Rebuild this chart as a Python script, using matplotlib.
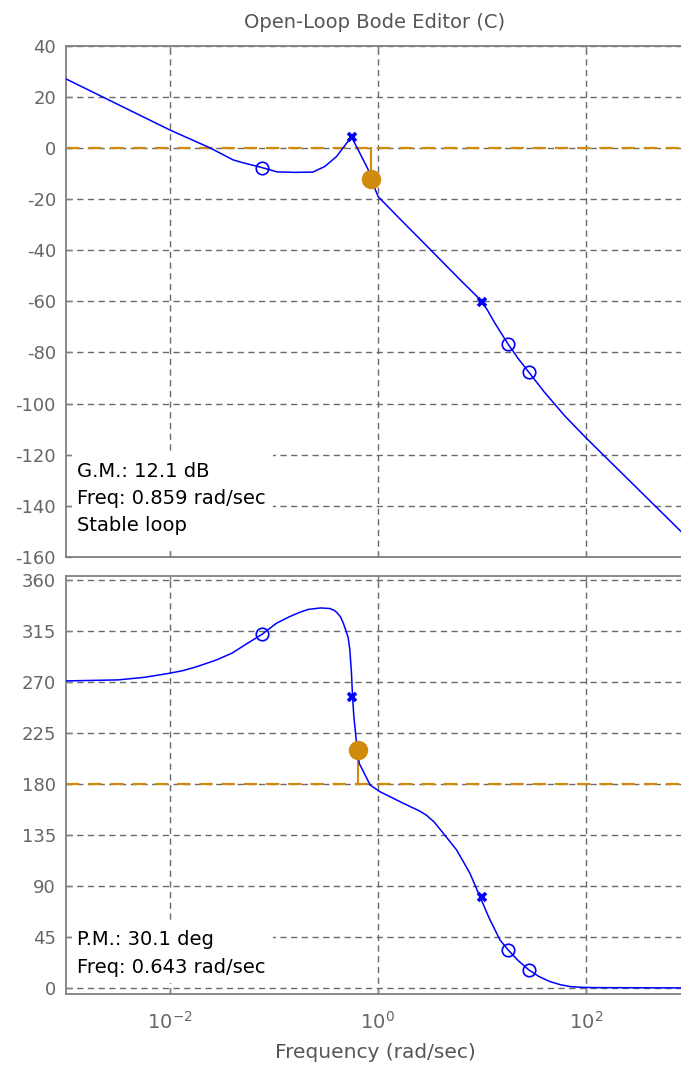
"""
plot.py - open-loop Bode editor view: magnitude and phase with gain and
phase margin markers. Values read off the reference picture.
"""

import matplotlib
matplotlib.use("Agg")
import matplotlib.pyplot as plt
from matplotlib.patches import Rectangle
from matplotlib.ticker import FixedLocator, NullLocator

plt.rcParams["font.family"] = ["DejaVu Sans"]
plt.rcParams["axes.unicode_minus"] = False

# magnitude curve (rad/sec, dB)
mag_w = [0.001, 0.00316, 0.01, 0.0243, 0.0405, 0.0501, 0.0767, 0.107, 0.158,
         0.237, 0.309, 0.401, 0.5, 0.558, 0.647, 0.809, 0.859, 1.007, 1.63,
         3.16, 6.31, 8.91, 10.0, 11.2, 13.3, 17.8, 22.4, 28.3, 39.8, 63.1, 100.0,
         146.0, 461.0, 1000.0]
mag_db = [27.0, 17.0, 7.0, 0.0, -4.7, -5.8, -7.7, -9.4, -9.6,
          -9.5, -7.3, -3.4, 1.8, 4.2, -0.8, -8.6, -12.1, -19.1, -27.8,
          -39.6, -52.0, -58.0, -60.3, -63.2, -68.5, -76.7, -82.5, -87.8, -95.5, -105.0, -113.4,
          -120.0, -140.0, -153.5]

# phase curve (rad/sec, deg)
ph_w = [0.001, 0.00318, 0.00575, 0.01, 0.0134, 0.0178, 0.0281, 0.0398, 0.0526,
        0.0773, 0.106, 0.141, 0.178, 0.214, 0.282, 0.345, 0.380, 0.401, 0.437,
        0.465, 0.490, 0.519, 0.538, 0.558, 0.571, 0.588, 0.624, 0.643, 0.661,
        0.843, 1.045, 1.75, 2.51, 2.94, 3.47, 4.25, 5.71, 7.67, 9.57, 11.7,
        14.9, 17.9, 22.4, 28.3, 35.5, 45.1, 56.2, 70.1, 89.1, 117.0, 1000.0]
ph_deg = [270.9, 271.8, 274.1, 277.7, 280.0, 283.2, 289.4, 295.5, 302.6,
          312.1, 321.8, 327.5, 331.5, 334.0, 335.3, 334.8, 333.2, 331.5, 327.5,
          322.0, 316.0, 309.0, 298.2, 277.7, 257.0, 239.4, 216.0, 210.1, 198.3,
          179.1, 173.2, 163.0, 156.2, 152.3, 146.5, 136.5, 121.8, 101.2, 80.6, 62.0,
          42.4, 33.5, 24.0, 15.9, 10.0, 5.6, 3.0, 1.2, 0.6, 0.3, 0.0]

# compensator zeros (o) and poles (x)
zero_w = [0.0767, 17.8, 28.3]
zero_db = [-7.7, -76.7, -87.8]
zero_deg = [312.1, 33.5, 15.9]
pole_w = [0.56, 10.0]
pole_db = [4.2, -60.3]
pole_deg = [257.0, 80.6]

# margins
gm_w, gm_db = 0.859, -12.1
pm_w, pm_deg = 0.643, 210.1

mag_ticks = [40, 20, 0, -20, -40, -60, -80, -100, -120, -140, -160]
ph_ticks = [0, 45, 90, 135, 180, 225, 270, 315, 360]
freq_ticks = [1e-2, 1e0, 1e2]
freq_labels = ["$10^{-2}$", "$10^{0}$", "$10^{2}$"]

BLUE = "#0000ff"
ORANGE = "#d08a0c"
GRAY = "#808080"
TXT = "#666666"

fig = plt.figure(figsize=(6.81, 10.69), dpi=100)
ax1 = fig.add_axes([0.0965, 0.4790, 0.9167, 0.4784])
ax2 = fig.add_axes([0.0965, 0.0702, 0.9167, 0.3910])

for ax in (ax1, ax2):
    ax.set_xscale("log")
    ax.set_xlim(1e-3, 1e3)
    ax.xaxis.set_major_locator(FixedLocator(freq_ticks))
    ax.xaxis.set_minor_locator(NullLocator())
    ax.set_axisbelow(True)
    ax.grid(True, color="#6a6a6a", lw=1.0, ls=(0, (4.5, 3.2)))
    ax.tick_params(direction="in", length=4, width=1, color=GRAY,
                   labelcolor=TXT, labelsize=13, pad=7,
                   top=True, right=True)
    for s in ax.spines.values():
        s.set_color(GRAY)
        s.set_linewidth(1.3)

ax1.set_ylim(-160, 40)
ax1.set_yticks(mag_ticks)
ax1.set_xticklabels([])
ax2.set_ylim(-5.3, 363.5)
ax2.set_yticks(ph_ticks)
ax2.set_xticklabels(freq_labels)
ax2.tick_params(axis="x", pad=12, labelsize=14)

# magnitude
ax1.axhline(0, color=ORANGE, lw=1.6, ls=(0, (6, 4)), zorder=1.6)
ax1.plot([gm_w, gm_w], [0, gm_db], color=ORANGE, lw=1.5, zorder=2)
ax1.plot(mag_w, mag_db, color=BLUE, lw=1.1, zorder=3)
ax1.plot(zero_w, zero_db, "o", mfc="none", mec=BLUE, ms=9, mew=1.2, zorder=4)
ax1.plot(pole_w, pole_db, "x", color=BLUE, ms=6, mew=2.6, zorder=4)
ax1.plot(gm_w, gm_db, "o", color=ORANGE, ms=13, zorder=5)

# phase
ax2.axhline(180, color=ORANGE, lw=1.6, ls=(0, (6, 4)), zorder=1.6)
ax2.plot([pm_w, pm_w], [180, pm_deg], color=ORANGE, lw=1.5, zorder=2)
ax2.plot(ph_w, ph_deg, color=BLUE, lw=1.1, zorder=3)
ax2.plot(zero_w, zero_deg, "o", mfc="none", mec=BLUE, ms=9, mew=1.2, zorder=4)
ax2.plot(pole_w, pole_deg, "x", color=BLUE, ms=6, mew=2.6, zorder=4)
ax2.plot(pm_w, pm_deg, "o", color=ORANGE, ms=13, zorder=5)

# margin read-outs on a white patch that hides the grid
ax1.add_patch(Rectangle((0.01, 0.014), 0.322, 0.191, transform=ax1.transAxes,
                        facecolor="white", edgecolor="none", zorder=1))
for y, s in zip([0.157, 0.104, 0.051],
                ["G.M.: 12.1 dB", "Freq: 0.859 rad/sec", "Stable loop"]):
    ax1.text(0.0176, y, s, transform=ax1.transAxes, fontsize=14,
             color="black", va="baseline", zorder=6)

ax2.add_patch(Rectangle((0.01, 0.026), 0.322, 0.151, transform=ax2.transAxes,
                        facecolor="white", edgecolor="none", zorder=1))
for y, s in zip([0.117, 0.051], ["P.M.: 30.1 deg", "Freq: 0.643 rad/sec"]):
    ax2.text(0.0176, y, s, transform=ax2.transAxes, fontsize=14,
             color="black", va="baseline", zorder=6)

fig.text(0.5507, 0.9794, "Open-Loop Bode Editor (C)", ha="center",
         va="center", fontsize=14, color="#555555")
fig.text(0.5507, 0.0150, "Frequency (rad/sec)", ha="center", va="center",
         fontsize=14.5, color="#555555")

fig.savefig("out.png", dpi=100)
